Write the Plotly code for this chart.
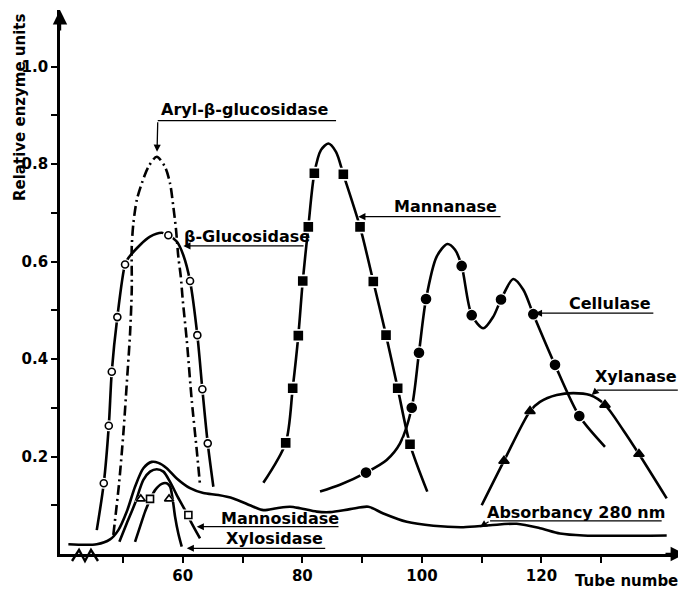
import plotly.graph_objects as go

# ---------------- data ----------------
# Aryl-beta-glucosidase (dash-dot, no markers)
aryl_x = [48.39, 49.35, 50.07, 50.64, 51.19, 51.47, 51.47, 51.74, 52.31, 53.14, 54.25, 55.65,
          57.04, 57.88, 58.43, 58.88, 59.26, 59.67, 60.0, 60.67, 61.5, 62.34, 62.89]
aryl_y = [0.039, 0.145, 0.248, 0.350, 0.453, 0.542, 0.630, 0.678, 0.726, 0.760, 0.794, 0.815,
          0.794, 0.760, 0.712, 0.665, 0.610, 0.569, 0.521, 0.439, 0.316, 0.213, 0.142]

# beta-Glucosidase (open circles)
bglu_x = [45.62, 46.79, 47.63, 48.13, 49.06, 50.35, 50.90, 52.86, 54.53, 56.49, 57.59, 59.0,
          60.1, 61.22, 62.44, 63.28, 64.18, 65.12]
bglu_y = [0.049, 0.145, 0.263, 0.374, 0.486, 0.594, 0.607, 0.634, 0.651, 0.659, 0.654, 0.641,
          0.613, 0.560, 0.449, 0.338, 0.227, 0.138]
bglu_mx = [46.79, 47.63, 48.13, 49.06, 50.35, 57.59, 61.22, 62.44, 63.28, 64.18]
bglu_my = [0.145, 0.263, 0.374, 0.486, 0.594, 0.654, 0.560, 0.449, 0.338, 0.227]

# Mannanase (filled squares)
mann_x = [73.48, 77.22, 78.39, 79.33, 80.07, 81.0, 82.01, 83.13, 84.35, 85.63, 86.86, 89.65,
          91.87, 94.0, 95.95, 98.01, 100.9]
mann_y = [0.146, 0.228, 0.340, 0.448, 0.560, 0.671, 0.781, 0.829, 0.842, 0.825, 0.779, 0.671,
          0.559, 0.449, 0.340, 0.225, 0.128]
mann_mx = [77.22, 78.39, 79.33, 80.07, 81.0, 82.01, 86.86, 89.65, 91.87, 94.0, 95.95, 98.01]
mann_my = [0.228, 0.340, 0.448, 0.560, 0.671, 0.781, 0.779, 0.671, 0.559, 0.449, 0.340, 0.225]

# Cellulase (filled circles)
cell_x = [82.96, 86.3, 90.65, 94.11, 96.34, 98.3, 99.51, 100.69, 102.47, 104.25, 105.54, 106.65,
          108.33, 110.27, 111.94, 113.23, 115.28, 116.96, 118.63, 122.26, 126.32, 130.62]
cell_y = [0.128, 0.142, 0.167, 0.193, 0.227, 0.300, 0.413, 0.523, 0.610, 0.636, 0.624, 0.591,
          0.490, 0.463, 0.487, 0.522, 0.564, 0.542, 0.492, 0.388, 0.283, 0.220]
cell_mx = [90.65, 98.3, 99.51, 100.69, 106.65, 108.33, 113.23, 118.63, 122.26, 126.32]
cell_my = [0.167, 0.300, 0.413, 0.523, 0.591, 0.490, 0.522, 0.492, 0.388, 0.283]

# Xylanase (filled triangles)
xyln_x = [110.0, 113.73, 118.08, 119.75, 122.54, 125.32, 128.1, 130.62, 133.68, 136.3, 140.94]
xyln_y = [0.100, 0.191, 0.293, 0.312, 0.326, 0.330, 0.326, 0.306, 0.254, 0.205, 0.114]
xyln_mx = [113.73, 118.08, 130.62, 136.3]
xyln_my = [0.191, 0.293, 0.306, 0.205]

# Mannosidase (open squares)
mnsd_x = [49.40, 50.64, 52.02, 53.41, 54.53, 55.65, 56.76, 57.88, 59.0, 60.38, 61.5, 62.89]
mnsd_y = [0.025, 0.063, 0.104, 0.152, 0.169, 0.174, 0.169, 0.148, 0.121, 0.090, 0.063, 0.032]
mnsd_mx = [54.53, 60.94]
mnsd_my = [0.113, 0.080]

# Xylosidase (open triangles)
xlsd_x = [52.02, 52.86, 53.70, 54.53, 55.37, 56.49, 57.32, 57.88, 58.33, 58.71, 59.26, 59.83]
xlsd_y = [0.025, 0.056, 0.087, 0.111, 0.131, 0.144, 0.145, 0.138, 0.111, 0.077, 0.042, 0.015]
xlsd_mx = [52.98, 57.71]
xlsd_my = [0.113, 0.113]

# Absorbancy 280 nm (plain line)
abs_x = [40.87, 45.62, 47.84, 49.23, 50.64, 52.02, 53.41, 54.82, 55.92, 57.32, 59.0, 61.22,
         63.44, 65.95, 68.46, 71.81, 73.48, 75.72, 77.94, 79.62, 82.41, 84.63, 87.98, 91.04,
         93.55, 97.46, 101.91, 106.92, 111.39, 115.85, 119.75, 123.09, 126.99, 140.94]
abs_y = [0.020, 0.020, 0.030, 0.049, 0.087, 0.138, 0.176, 0.189, 0.187, 0.176, 0.155, 0.135,
         0.125, 0.121, 0.114, 0.097, 0.090, 0.094, 0.097, 0.094, 0.087, 0.086, 0.092, 0.097,
         0.083, 0.066, 0.058, 0.055, 0.059, 0.062, 0.053, 0.042, 0.038, 0.038]

x_tick_vals = [50, 60, 70, 80, 90, 100, 110, 120, 130]
x_tick_text = ["", "60", "", "80", "", "100", "", "120", ""]
y_tick_vals = [0.1, 0.2, 0.3, 0.4, 0.5, 0.6, 0.7, 0.8, 0.9, 1.0]
y_tick_text = ["", "0.2", "", "0.4", "", "0.6", "", "0.8", "", "1.0"]

# ---------------- figure ----------------
FONT = "DejaVu Sans"
LW = 2.6
fig = go.Figure()

def curve(x, y, dash="solid"):
    fig.add_trace(go.Scatter(x=x, y=y, mode="lines", showlegend=False, hoverinfo="skip",
                             line=dict(color="black", width=LW, dash=dash, shape="spline", smoothing=0.8)))

curve(abs_x, abs_y)
curve(aryl_x, aryl_y, dash="10px,4px,2px,4px")
curve(bglu_x, bglu_y)
curve(mann_x, mann_y)
curve(cell_x, cell_y)
curve(xyln_x, xyln_y)
curve(mnsd_x, mnsd_y)
curve(xlsd_x, xlsd_y)

marker_specs = [
    (bglu_mx, bglu_my, "circle", 7, "white", 11),
    (mann_mx, mann_my, "square", 8, "black", 13),
    (cell_mx, cell_my, "circle", 9, "black", 13),
    (xyln_mx, xyln_my, "triangle-up", 9, "black", 13),
    (mnsd_mx, mnsd_my, "square", 7, "white", 11),
    (xlsd_mx, xlsd_my, "triangle-up", 8, "white", 11),
]
for mx, my, sym, sz, fill, halo in marker_specs:
    fig.add_trace(go.Scatter(x=mx, y=my, mode="markers", showlegend=False, hoverinfo="skip",
                             marker=dict(symbol=sym, size=halo, color="white", line=dict(width=0))))
for mx, my, sym, sz, fill, halo in marker_specs:
    fig.add_trace(go.Scatter(x=mx, y=my, mode="markers", showlegend=False, hoverinfo="skip",
                             marker=dict(symbol=sym, size=sz, color=fill,
                                         line=dict(color="black", width=1.6))))

# axis-break symbol below the x axis (paper-referenced path, drawn outside the plot area)
PW, PH = 626.0, 544.0
brk = [(72, 561), (79, 550), (85, 561), (91, 550), (98, 561)]  # page pixels
path = "M " + " L ".join(f"{(px - 60) / PW:.4f},{(554 - py) / PH:.4f}" for px, py in brk)
fig.add_shape(type="path", path=path, xref="paper", yref="paper",
              line=dict(color="black", width=2.4))

# ---------------- labels ----------------
lab_font = dict(family=FONT, size=16, color="black", weight="bold")
labels = [
    ("Aryl-β-glucosidase", 70.4, 0.911),
    ("β-Glucosidase", 70.8, 0.651),
    ("Mannanase", 103.9, 0.712),
    ("Cellulase", 131.5, 0.514),
    ("Xylanase", 135.8, 0.364),
    ("Absorbancy 280 nm", 125.8, 0.086),
    ("Mannosidase", 76.2, 0.072),
    ("Xylosidase", 75.4, 0.031),
]
for txt, lx, ly in labels:
    fig.add_annotation(x=lx, y=ly, text=txt, showarrow=False, font=lab_font,
                       xanchor="center", yanchor="middle")

# leader lines with arrowheads (head, tail)
leaders = [
    ((55.7, 0.825), (55.82, 0.889)),
    ((60.1, 0.632), (80.45, 0.632)),
    ((89.36, 0.692), (113.4, 0.692)),
    ((118.9, 0.494), (138.96, 0.494)),
    ((128.4, 0.326), (129.3, 0.336)),
    ((109.7, 0.055), (111.4, 0.068)),
    ((62.34, 0.056), (86.3, 0.056)),
    ((60.67, 0.0117), (84.08, 0.0117)),
]
for (hx, hy), (tx, ty) in leaders:
    fig.add_annotation(x=hx, y=hy, ax=tx, ay=ty, axref="x", ayref="y", xref="x", yref="y",
                       text="", showarrow=True, arrowhead=2, arrowsize=1.1, arrowwidth=1.3,
                       arrowcolor="black", standoff=0)
# horizontal parts of elbow leaders
for x0, x1, yy in [(55.82, 85.64, 0.889), (129.3, 142.8, 0.336), (111.4, 140.1, 0.068)]:
    fig.add_shape(type="line", x0=x0, x1=x1, y0=yy, y1=yy, xref="x", yref="y",
                  line=dict(color="black", width=1.3))

# axis arrowheads
fig.add_annotation(xref="paper", yref="paper", x=0, y=1, ax=0, ay=22, text="", showarrow=True,
                   arrowhead=2, arrowsize=1.2, arrowwidth=2.4, arrowcolor="black", standoff=0)
fig.add_annotation(xref="paper", yref="paper", x=1, y=0, ax=-22, ay=0, text="", showarrow=True,
                   arrowhead=2, arrowsize=1.2, arrowwidth=2.4, arrowcolor="black", standoff=0)

# axis titles
fig.add_annotation(xref="paper", x=0, xshift=-40, yref="y", y=0.917, text="Relative enzyme units",
                   textangle=-90, showarrow=False,
                   font=dict(family=FONT, size=15, weight="bold", color="black"),
                   xanchor="center", yanchor="middle")
fig.add_annotation(xref="paper", x=(573 - 60) / PW, yref="paper", y=0, yshift=-27,
                   text="Tube number", showarrow=False,
                   font=dict(family=FONT, size=15, weight="bold", color="black"),
                   xanchor="left", yanchor="middle")

# the page body adds an 8px margin, so the figure is 8px smaller and margins shifted
fig.update_layout(
    width=678, height=582,
    margin=dict(l=52, r=0, t=2, b=36),
    paper_bgcolor="white", plot_bgcolor="white",
    showlegend=False,
    xaxis=dict(range=[39.47, 144.17], showgrid=False, zeroline=False, showline=True,
               linecolor="black", linewidth=2.6, ticks="outside", ticklen=6, tickwidth=2,
               tickcolor="black", tickvals=x_tick_vals, ticktext=x_tick_text, automargin=False,
               tickfont=dict(family=FONT, size=15, weight="bold", color="black")),
    yaxis=dict(range=[0, 1.116], showgrid=False, zeroline=False, showline=True,
               linecolor="black", linewidth=2.6, ticks="outside", ticklen=6, tickwidth=2,
               tickcolor="black", tickvals=y_tick_vals, ticktext=y_tick_text, automargin=False,
               tickfont=dict(family=FONT, size=15, weight="bold", color="black")),
)

fig.write_html("out.html")
